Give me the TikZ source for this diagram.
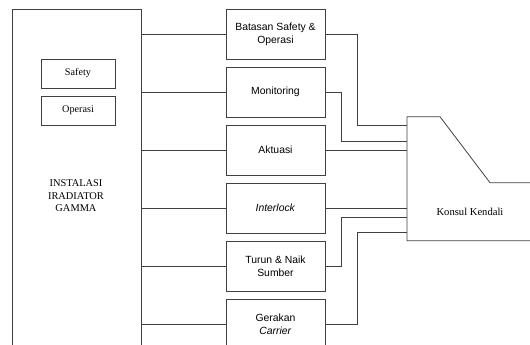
\documentclass[tikz,border=0pt]{standalone}
\usepackage{fontspec}
\setmainfont{Liberation Serif}
\setsansfont{Liberation Sans}
\usetikzlibrary{positioning}

\tikzset{
  garis/.style={draw=black!75, line width=0.8pt},
  blok/.style={garis, minimum width=99pt, minimum height=50pt, inner sep=0pt,
    align=center, font=\sffamily\fontsize{10.4}{13}\selectfont},
  kotak/.style={garis, minimum width=74pt, minimum height=29pt, inner sep=0pt,
    font=\fontsize{10.2}{12}\selectfont},
}

\begin{document}
\begin{tikzpicture}[x=1pt,y=-1pt]
\useasboundingbox (0,0) rectangle (530,345);

% instalasi iradiator
\node[garis, minimum width=129pt, minimum height=360pt, inner sep=0pt, anchor=north west] (inst) at (12,9) {};
\node[kotak] (safety) at (78,73.5) {Safety};
\node[kotak] (operasi) at (78,110.5) {Operasi};
\node[align=center, font=\fontsize{10.4}{12.5}\selectfont] (judul) at (76,196) {INSTALASI\\IRADIATOR\\GAMMA};

% blok tengah
\node[blok] (batasan) at (275.5,34) {Batasan Safety \&\\Operasi};
\node[blok] (monitoring) at (275.5,92) {Monitoring};
\node[blok] (aktuasi) at (275.5,150) {Aktuasi};
\node[blok] (interlock) at (275.5,208) {\textit{Interlock}};
\node[blok] (turun) at (275.5,266) {Turun \& Naik\\Sumber};
\node[blok] (gerakan) at (275.5,324) {Gerakan\\\textit{Carrier}};

\foreach \n in {batasan,monitoring,aktuasi,interlock,turun,gerakan}
  \draw[garis] (inst.east |- \n.west) -- (\n.west);

% konsul kendali
\draw[garis] (530,182.7) -- (490,182.7) -- (440,116.7) -- (407,116.7) -- (407,240.7) -- (530,240.7);
\node[font=\fontsize{10.6}{12}\selectfont] (konsul) at (470,212) {Konsul Kendali};
\coordinate (k1) at (407,125);
\coordinate (k2) at (407,141);
\coordinate (k3) at (407,150);
\coordinate (k4) at (407,208);
\coordinate (k5) at (407,217);
\coordinate (k6) at (407,232);

\draw[garis] (batasan.east) -- ++(32,0) |- (k1);
\draw[garis] (monitoring.east) -- ++(16,0) |- (k2);
\draw[garis] (aktuasi.east) -- (k3);
\draw[garis] (interlock.east) -- (k4);
\draw[garis] (turun.east) -- ++(16,0) |- (k5);
\draw[garis] (gerakan.east) -- ++(32,0) |- (k6);
\end{tikzpicture}
\end{document}
